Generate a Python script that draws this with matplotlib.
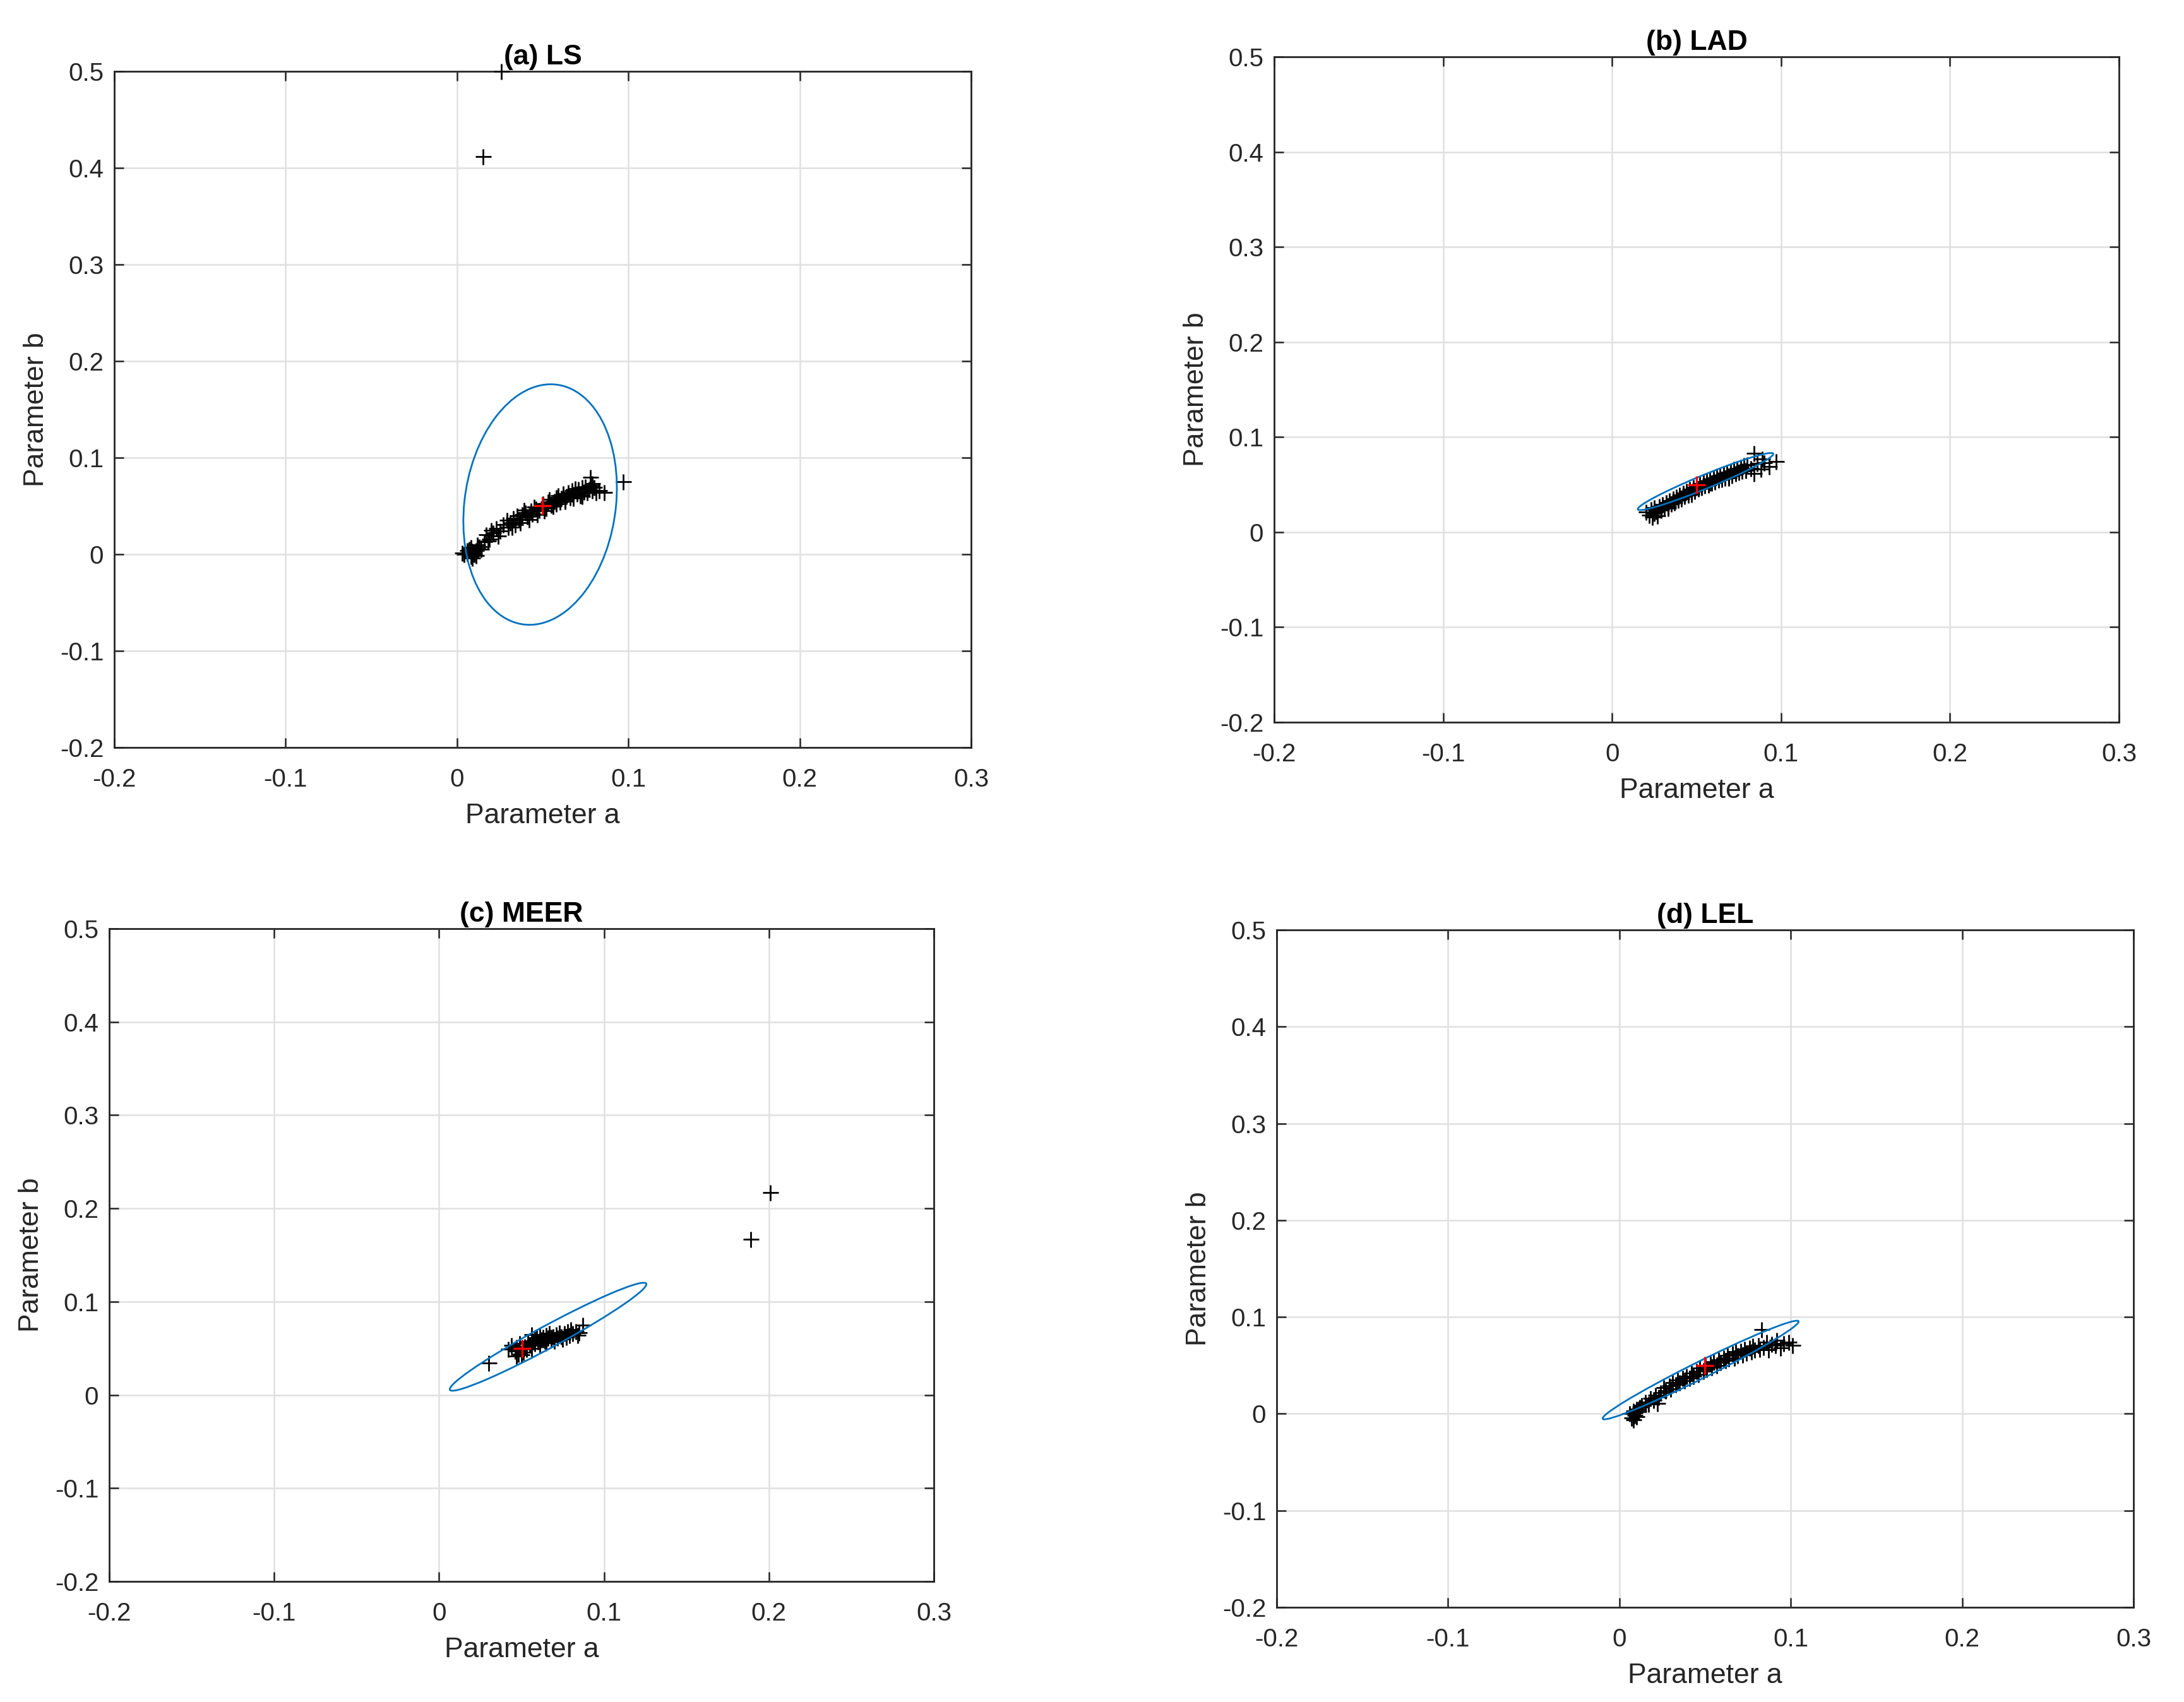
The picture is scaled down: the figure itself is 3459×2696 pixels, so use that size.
import numpy as np
import matplotlib
matplotlib.use("Agg")
import matplotlib.pyplot as plt
from matplotlib.patches import Ellipse

plt.rcParams['font.family'] = ['Liberation Sans', 'DejaVu Sans']

# ---------------- data ----------------
titles = ["(a) LS", "(b) LAD", "(c) MEER", "(d) LEL"]
x_ticks = [-0.2, -0.1, 0, 0.1, 0.2, 0.3]
y_ticks = [-0.2, -0.1, 0, 0.1, 0.2, 0.3, 0.4, 0.5]
x_tick_labels = ["-0.2", "-0.1", "0", "0.1", "0.2", "0.3"]
y_tick_labels = ["-0.2", "-0.1", "0", "0.1", "0.2", "0.3", "0.4", "0.5"]

a_ls = [0.003, 0.004, 0.006, 0.008, 0.009, 0.007, 0.010, 0.011, 0.008, 0.012, 0.009, 0.013,
        0.010, 0.014, 0.006, 0.011, 0.012, 0.017, 0.018, 0.020, 0.023, 0.024, 0.016, 0.019,
        0.021, 0.027, 0.029, 0.031, 0.033, 0.035, 0.030, 0.036, 0.038, 0.040, 0.041, 0.043,
        0.044, 0.046, 0.045, 0.048, 0.039, 0.034, 0.050, 0.052, 0.053, 0.055, 0.054, 0.057,
        0.056, 0.058, 0.060, 0.059, 0.061, 0.062, 0.063, 0.064, 0.065, 0.066, 0.067, 0.068,
        0.069, 0.070, 0.071, 0.072, 0.073, 0.074, 0.075, 0.076, 0.077, 0.078, 0.079, 0.080,
        0.081, 0.079, 0.083, 0.086, 0.078, 0.097, 0.015, 0.026,
        0.025, 0.032, 0.037, 0.042, 0.047, 0.051, 0.058, 0.063, 0.068, 0.073]
b_ls = [0.001, 0.000, 0.001, -0.002, 0.003, 0.005, 0.000, 0.004, 0.007, 0.006, -0.004, 0.008,
        0.002, 0.005, 0.004, -0.001, 0.010, 0.020, 0.014, 0.025, 0.027, 0.019, 0.013, 0.016,
        0.022, 0.031, 0.035, 0.033, 0.037, 0.040, 0.028, 0.036, 0.041, 0.043, 0.039, 0.045,
        0.042, 0.047, 0.049, 0.046, 0.046, 0.031, 0.052, 0.048, 0.054, 0.051, 0.057, 0.055,
        0.050, 0.059, 0.054, 0.061, 0.058, 0.063, 0.056, 0.060, 0.064, 0.059, 0.066, 0.062,
        0.068, 0.063, 0.067, 0.061, 0.069, 0.065, 0.070, 0.064, 0.067, 0.071, 0.066, 0.069,
        0.064, 0.073, 0.066, 0.064, 0.080, 0.075, 0.412, 0.500,
        0.024, 0.028, 0.033, 0.036, 0.041, 0.045, 0.052, 0.055, 0.058, 0.060]

a_lad = [0.020, 0.022, 0.023, 0.024, 0.025, 0.026, 0.027, 0.028, 0.029, 0.030, 0.031, 0.032,
         0.033, 0.034, 0.035, 0.036, 0.037, 0.038, 0.039, 0.040, 0.041, 0.042, 0.043, 0.044,
         0.045, 0.046, 0.047, 0.048, 0.049, 0.050, 0.051, 0.052, 0.053, 0.054, 0.055, 0.056,
         0.057, 0.058, 0.059, 0.060, 0.061, 0.062, 0.063, 0.064, 0.065, 0.066, 0.067, 0.068,
         0.069, 0.070, 0.071, 0.072, 0.073, 0.074, 0.075, 0.076, 0.077, 0.078, 0.079, 0.080,
         0.082, 0.084, 0.084, 0.086, 0.088, 0.089, 0.090, 0.097, 0.093, 0.025, 0.033, 0.047,
         0.058, 0.069]
b_lad = [0.021, 0.018, 0.024, 0.016, 0.026, 0.022, 0.017, 0.027, 0.023, 0.029, 0.026, 0.031,
         0.027, 0.033, 0.030, 0.035, 0.031, 0.037, 0.034, 0.039, 0.035, 0.041, 0.038, 0.043,
         0.039, 0.045, 0.042, 0.047, 0.043, 0.049, 0.046, 0.051, 0.047, 0.053, 0.049, 0.054,
         0.050, 0.056, 0.052, 0.057, 0.053, 0.059, 0.055, 0.060, 0.056, 0.062, 0.057, 0.063,
         0.059, 0.064, 0.060, 0.066, 0.062, 0.067, 0.063, 0.068, 0.064, 0.070, 0.065, 0.071,
         0.067, 0.083, 0.062, 0.072, 0.066, 0.077, 0.073, 0.074, 0.069, 0.020, 0.025, 0.040,
         0.052, 0.057]

a_meer = [0.030, 0.042, 0.044, 0.046, 0.047, 0.048, 0.049, 0.051, 0.052, 0.053, 0.054, 0.055,
          0.056, 0.056, 0.057, 0.058, 0.059, 0.060, 0.061, 0.061, 0.062, 0.063, 0.064, 0.065,
          0.065, 0.066, 0.067, 0.068, 0.069, 0.070, 0.071, 0.072, 0.073, 0.074, 0.075, 0.076,
          0.077, 0.078, 0.079, 0.080, 0.081, 0.083, 0.085, 0.087, 0.084, 0.047, 0.050, 0.058,
          0.063, 0.068, 0.189, 0.201]
b_meer = [0.034, 0.049, 0.053, 0.047, 0.051, 0.044, 0.055, 0.046, 0.052, 0.049, 0.057, 0.054,
          0.065, 0.050, 0.058, 0.055, 0.061, 0.057, 0.063, 0.053, 0.059, 0.062, 0.058, 0.064,
          0.056, 0.061, 0.066, 0.060, 0.063, 0.058, 0.065, 0.061, 0.067, 0.063, 0.060, 0.066,
          0.062, 0.068, 0.064, 0.070, 0.066, 0.068, 0.067, 0.075, 0.064, 0.042, 0.043, 0.060,
          0.059, 0.062, 0.167, 0.217]

a_lel = [0.006, 0.007, 0.008, 0.009, 0.010, 0.008, 0.011, 0.012, 0.010, 0.013, 0.015, 0.017,
         0.018, 0.020, 0.021, 0.023, 0.024, 0.026, 0.027, 0.029, 0.030, 0.031, 0.033, 0.034,
         0.035, 0.037, 0.038, 0.039, 0.041, 0.042, 0.043, 0.045, 0.046, 0.047, 0.049, 0.050,
         0.051, 0.053, 0.054, 0.055, 0.057, 0.058, 0.059, 0.061, 0.062, 0.063, 0.064, 0.066,
         0.067, 0.068, 0.069, 0.071, 0.072, 0.073, 0.074, 0.076, 0.077, 0.078, 0.079, 0.081,
         0.082, 0.083, 0.084, 0.086, 0.087, 0.089, 0.091, 0.092, 0.094, 0.096, 0.099, 0.101,
         0.009, 0.011, 0.022]
b_lel = [0.000, -0.004, 0.003, -0.002, 0.005, -0.006, 0.002, 0.007, -0.003, 0.009, 0.012, 0.010,
         0.016, 0.014, 0.019, 0.017, 0.022, 0.027, 0.024, 0.029, 0.026, 0.032, 0.030, 0.035,
         0.032, 0.037, 0.034, 0.039, 0.037, 0.042, 0.039, 0.044, 0.041, 0.047, 0.044, 0.049,
         0.046, 0.052, 0.048, 0.054, 0.050, 0.056, 0.053, 0.058, 0.055, 0.060, 0.057, 0.062,
         0.058, 0.064, 0.060, 0.065, 0.061, 0.067, 0.063, 0.068, 0.064, 0.070, 0.066, 0.071,
         0.067, 0.087, 0.069, 0.074, 0.066, 0.072, 0.071, 0.076, 0.068, 0.073, 0.074, 0.071,
         0.001, 0.004, 0.011]

series_a = [a_ls, a_lad, a_meer, a_lel]
series_b = [b_ls, b_lad, b_meer, b_lel]

mean_a = [0.0499, 0.0501, 0.0502, 0.0497]
mean_b = [0.0502, 0.0500, 0.0500, 0.0500]

ell_cx = [0.0485, 0.0553, 0.0661, 0.0474]
ell_cy = [0.0515, 0.0532, 0.0624, 0.0452]
ell_sxx = [0.002007, 0.001608, 0.003552, 0.003270]
ell_syy = [0.015500, 0.000902, 0.003352, 0.002596]
ell_sxy = [0.000772, 0.001163, 0.003355, 0.002860]

# ---------------- layout ----------------
W, H = 3459, 2696
DPI = 100
fig = plt.figure(figsize=(W / DPI, H / DPI), dpi=DPI)

boxes_px = [(181, 1538, 113, 1184), (2018, 3356, 90, 1144),
            (173, 1479, 1471, 2505), (2022, 3379, 1473, 2546)]

axis_col = '#262626'
for i, (l, r, t, b) in enumerate(boxes_px):
    ax = fig.add_axes([l / W, 1 - b / H, (r - l) / W, (b - t) / H])
    ax.plot(series_a[i], series_b[i], linestyle='none', marker='+', color='black',
            markersize=18, markeredgewidth=2.0, zorder=3, clip_on=False)
    S = np.array([[ell_sxx[i], ell_sxy[i]], [ell_sxy[i], ell_syy[i]]])
    vals, vecs = np.linalg.eigh(S)
    ang = np.degrees(np.arctan2(vecs[1, 1], vecs[0, 1]))
    e = Ellipse((ell_cx[i], ell_cy[i]), 2 * np.sqrt(vals[1]), 2 * np.sqrt(vals[0]),
                angle=ang, fill=False, edgecolor='#0072BD', linewidth=2.0, zorder=4)
    ax.add_patch(e)
    ax.plot([mean_a[i]], [mean_b[i]], linestyle='none', marker='+', color='red',
            markersize=20, markeredgewidth=2.4, zorder=5)

    ax.set_xlim(-0.2, 0.3)
    ax.set_ylim(-0.2, 0.5)
    ax.set_xticks(x_ticks)
    ax.set_xticklabels(x_tick_labels)
    ax.set_yticks(y_ticks)
    ax.set_yticklabels(y_tick_labels)
    ax.grid(True, color='#E0E0E0', linewidth=1.8)
    ax.set_axisbelow(True)
    ax.tick_params(direction='in', top=True, right=True, length=10.8, width=1.8,
                   labelsize=29, colors=axis_col)
    ax.tick_params(axis='x', pad=23)
    ax.tick_params(axis='y', pad=12)
    for s in ax.spines.values():
        s.set_color(axis_col)
        s.set_linewidth(2.0)
    ax.set_xlabel("Parameter a", fontsize=32, color=axis_col, labelpad=13)
    ax.set_ylabel("Parameter b", fontsize=32, color=axis_col, labelpad=12)
    ax.set_title(titles[i], fontsize=32, fontweight='bold', pad=8)

fig.savefig("out.png", dpi=DPI)
